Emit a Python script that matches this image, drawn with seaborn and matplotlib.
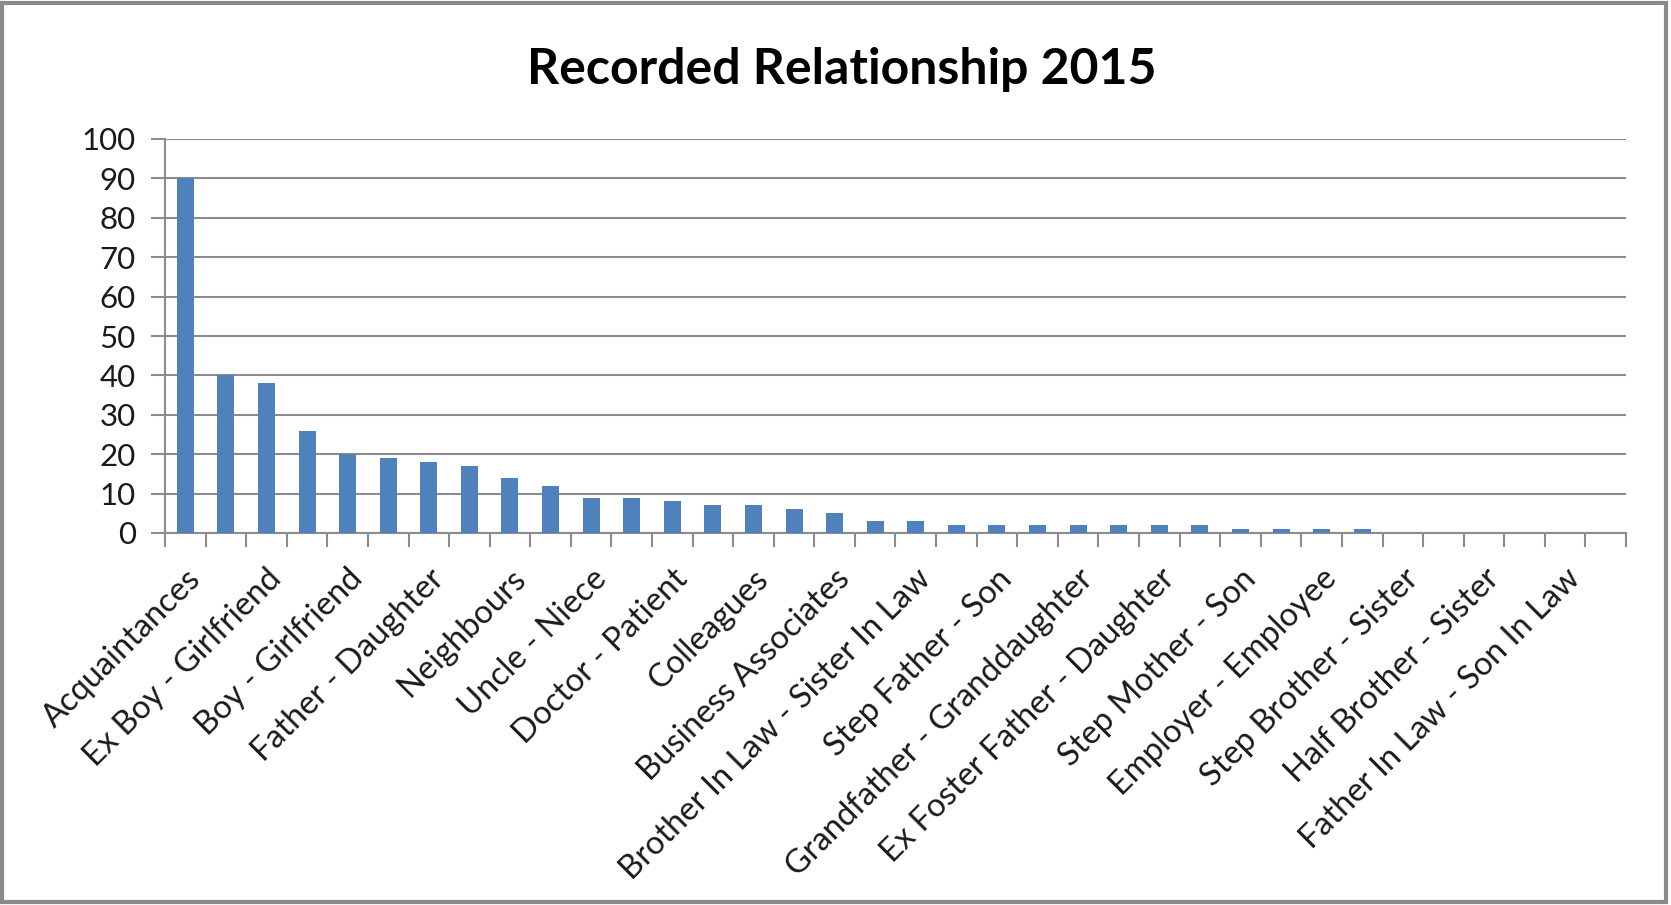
import matplotlib
matplotlib.use("Agg")
import matplotlib.pyplot as plt
import seaborn as sns
import pandas as pd
import numpy as np
from matplotlib.patches import Rectangle

# Relationship categories (every other one is labelled on the axis)
categories = [
    "Acquaintances", "Strangers", "Ex Boy - Girlfriend", "Husband - Wife",
    "Boy - Girlfriend", "Friends", "Father - Daughter", "Mother - Daughter",
    "Neighbours", "Cousins", "Uncle - Niece", "Brother - Sister",
    "Doctor - Patient", "Teacher - Pupil", "Colleagues", "Ex Husband - Wife",
    "Business Associates", "Landlord - Tenant", "Brother In Law - Sister In Law",
    "Mother - Son", "Step Father - Son", "Father - Son", "Grandfather - Granddaughter",
    "Step Father - Daughter", "Ex Foster Father - Daughter", "Uncle - Nephew",
    "Step Mother - Son", "Carer - Client", "Employer - Employee", "Aunt - Niece",
    "Step Brother - Sister", "Foster Father - Son", "Half Brother - Sister",
    "Grandmother - Grandson", "Father In Law - Son In Law", "Partners",
]
counts = [90, 40, 38, 26, 20, 19, 18, 17, 14, 12, 9, 9, 8, 7, 7, 6, 5, 3, 3, 2,
          2, 2, 2, 2, 2, 2, 1, 1, 1, 1, 0, 0, 0, 0, 0, 0]
y_ticks = [0, 10, 20, 30, 40, 50, 60, 70, 80, 90, 100]
title = "Recorded Relationship 2015"

df = pd.DataFrame({"relationship": categories, "count": counts})

sns.set_theme(style="white")
plt.rcParams["font.family"] = ["Lato", "DejaVu Sans"]

W, H = 1671, 905
fig = plt.figure(figsize=(W / 100, H / 100), dpi=100)
fig.patch.set_facecolor("white")

ax = fig.add_axes([165 / W, 1 - 533 / H, (1626 - 165) / W, (533 - 139) / H])
sns.barplot(data=df, x="relationship", y="count", order=categories,
            color="#4F81BD", saturation=1, width=0.42, linewidth=0,
            ax=ax, zorder=3)

grid_c = "#8C8C8C"
ax.set_ylim(0, 100)
ax.set_xlim(-0.5, len(categories) - 0.5)
ax.set_yticks(y_ticks)
ax.set_yticklabels([str(v) for v in y_ticks], fontsize=22.5, color="#1a1a1a")
ax.yaxis.grid(True, color=grid_c, linewidth=1.5, zorder=0)
ax.set_axisbelow(True)

# Category labels on every other bar, tick marks between categories
n = len(categories)
ax.set_xticks(np.arange(0, n, 2))
ax.set_xticklabels(categories[::2], rotation=45, ha="right",
                   rotation_mode="anchor", fontsize=23.5, color="#1a1a1a")
ax.set_xticks(np.arange(-0.5, n, 1), minor=True)
ax.tick_params(axis="x", which="major", length=0, pad=22)
ax.tick_params(axis="x", which="minor", length=10, width=1.5, color=grid_c,
               direction="out", bottom=True)
ax.tick_params(axis="y", length=10, width=1.5, color=grid_c, direction="out",
               left=True, pad=11)

for side in ("top", "right"):
    ax.spines[side].set_visible(False)
for side in ("left", "bottom"):
    ax.spines[side].set_color(grid_c)
    ax.spines[side].set_linewidth(1.5)

ax.set_xlabel("")
ax.set_ylabel("")

fig.text(842 / W, 1 - 70 / H, title, ha="center", va="center",
         fontsize=36, fontweight="bold", color="black")

# Outer chart frame
fig.patches.append(Rectangle((1.5 / W, 3 / H), (1666 - 1.5) / W, (902 - 3) / H,
                             transform=fig.transFigure, fill=False,
                             edgecolor="#8A8A8A", linewidth=3))

fig.savefig("out.png", dpi=100, facecolor="white")
